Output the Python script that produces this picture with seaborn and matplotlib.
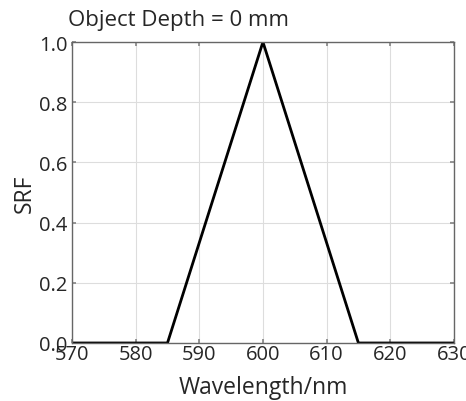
import matplotlib
matplotlib.use("Agg")
import matplotlib.pyplot as plt
import seaborn as sns
import pandas as pd

# Spectral response function: triangular passband centred at 600 nm
wavelength = [570, 585, 600, 615, 630]
srf = [0.0, 0.0, 1.0, 0.0, 0.0]
x_ticks = [570, 580, 590, 600, 610, 620, 630]
y_ticks = [0.0, 0.2, 0.4, 0.6, 0.8, 1.0]

sns.set_theme(style="white")
plt.rcParams["font.family"] = ["Open Sans", "DejaVu Sans"]

df = pd.DataFrame({"Wavelength": wavelength, "SRF": srf})

fig = plt.figure(figsize=(4.66, 4.02), dpi=100)
ax = fig.add_axes([0.1545, 0.1443, 0.8195, 0.7487])

sns.lineplot(data=df, x="Wavelength", y="SRF", ax=ax, color="black", linewidth=2.0)

ax.set_xlim(570, 630)
ax.set_ylim(0, 1.0)
ax.set_xticks(x_ticks)
ax.set_yticks(y_ticks)
ax.set_xticklabels([str(t) for t in x_ticks])
ax.set_yticklabels([f"{t:.1f}" for t in y_ticks])
ax.grid(True, color="#dddddd", linewidth=0.8)
ax.tick_params(direction="in", length=3, color="#888888", labelsize=14.5,
               bottom=True, left=True, top=True, right=True)
ax.tick_params(axis="x", pad=1)
ax.tick_params(axis="y", pad=3)
for s in ax.spines.values():
    s.set_color("#666666")
    s.set_linewidth(1.0)

ax.set_xlabel("Wavelength/nm", fontsize=16.5, labelpad=8)
ax.set_ylabel("SRF", fontsize=16.5, labelpad=2)
fig.text(0.146, 0.95, "Object Depth = 0 mm", fontsize=16, ha="left", va="center")

fig.savefig("out.png", dpi=100)
